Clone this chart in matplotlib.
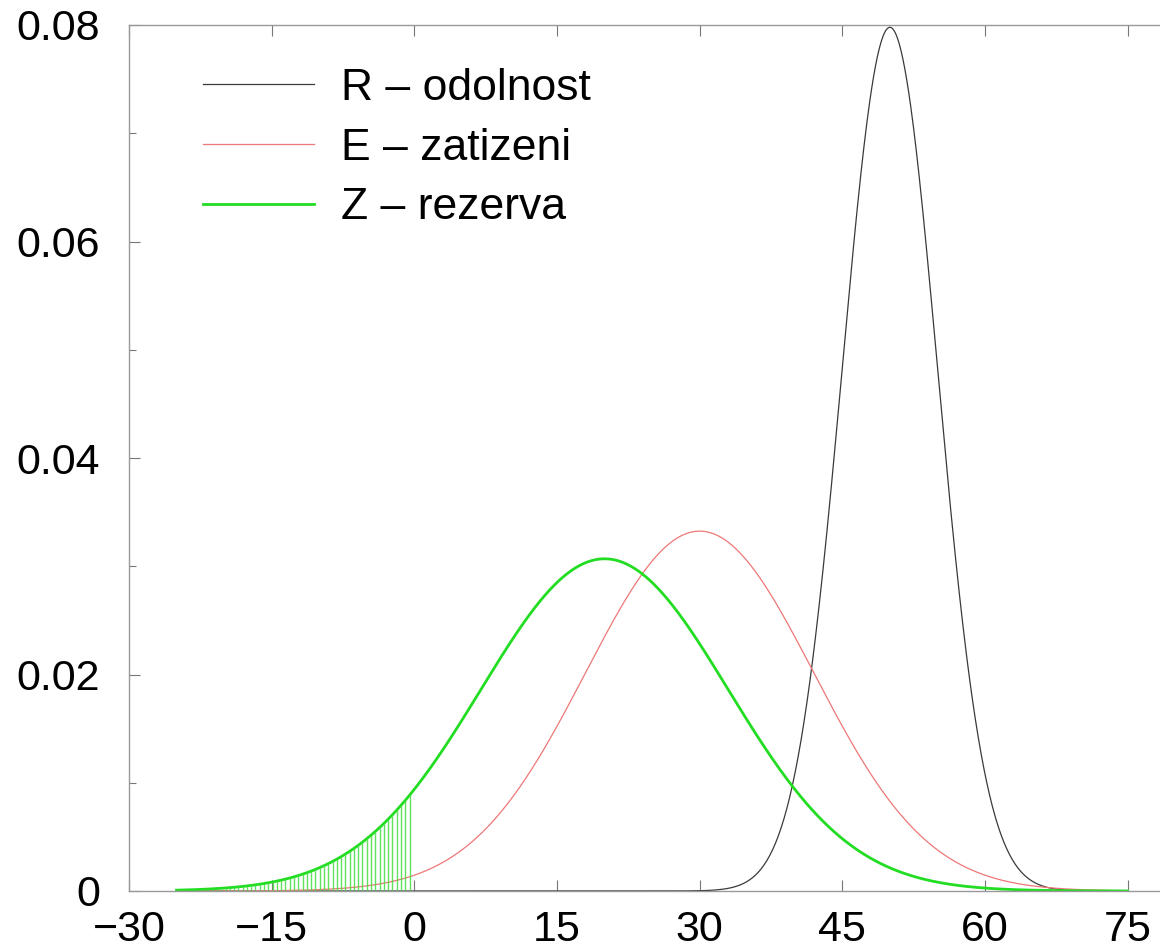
import numpy as np
import matplotlib.pyplot as plt

#Data: normal distributions (mean, std dev)
labels = ["R \u2013 odolnost", "E \u2013 zatizeni", "Z \u2013 rezerva"]
means = [50, 30, 20]
sigmas = [5, 12, 13]
colors = ["#3a3a3a", "#ee7777", "#22dd22"]
widths = [0.9, 0.9, 2.0]

x_range = [-25, 75]
hatch_range = [-25, -0.5]
hatch_step = 0.45

x_ticks = [-30, -15, 0, 15, 30, 45, 60, 75]
y_ticks = [0, 0.02, 0.04, 0.06, 0.08]
y_tick_labels = ["0", "0.02", "0.04", "0.06", "0.08"]

plt.rcParams['font.family'] = ['Liberation Sans', 'DejaVu Sans']


def density(x, mu, sd):
    return np.exp(-0.5 * ((x - mu) / sd) ** 2) / (sd * np.sqrt(2 * np.pi))


fig = plt.figure(figsize=(11.6, 9.49), dpi=100)
ax = fig.add_axes([129 / 1160, 58 / 949, 1 - 129 / 1160, (891 - 25) / 949])

x = np.linspace(x_range[0], x_range[1], 1000)
for lab, mu, sd, col, lw in zip(labels, means, sigmas, colors, widths):
    ax.plot(x, density(x, mu, sd), color=col, lw=lw, label=lab)

#Hatched failure area under Z (x < 0)
xh = np.arange(hatch_range[1], hatch_range[0] - 0.01, -hatch_step)
ax.vlines(xh, 0, density(xh, means[2], sigmas[2]), color="#44dd44", lw=1.0, alpha=0.85)

ax.set_xlim(-30, 78.4)
ax.set_ylim(0, 0.08)
ax.set_xticks(x_ticks)
ax.set_xticklabels([str(t).replace("-", "\u2212") for t in x_ticks])
ax.set_yticks(y_ticks)
ax.set_yticklabels(y_tick_labels)
ax.set_yticks([0.01, 0.03, 0.05, 0.07], minor=True)

ax.tick_params(axis='both', which='major', direction='in', length=8, width=0.8,
               color='#777777', labelsize=31, top=True, right=False)
ax.tick_params(axis='x', which='major', pad=14)
ax.tick_params(axis='y', which='major', pad=21)
ax.tick_params(axis='y', which='minor', direction='in', length=5, width=0.8, color='#777777')
for side in ['left', 'bottom', 'top']:
    ax.spines[side].set_color('#999999')
    ax.spines[side].set_linewidth(1.0)
ax.spines['right'].set_visible(False)

leg = ax.legend(loc='upper left', bbox_to_anchor=((203 - 129) / 1031, (891 - 68) / 866),
                frameon=False, fontsize=32, borderpad=0, borderaxespad=0,
                handlelength=2.5, handletextpad=0.6, labelspacing=0.42)

plt.savefig("out.png")
